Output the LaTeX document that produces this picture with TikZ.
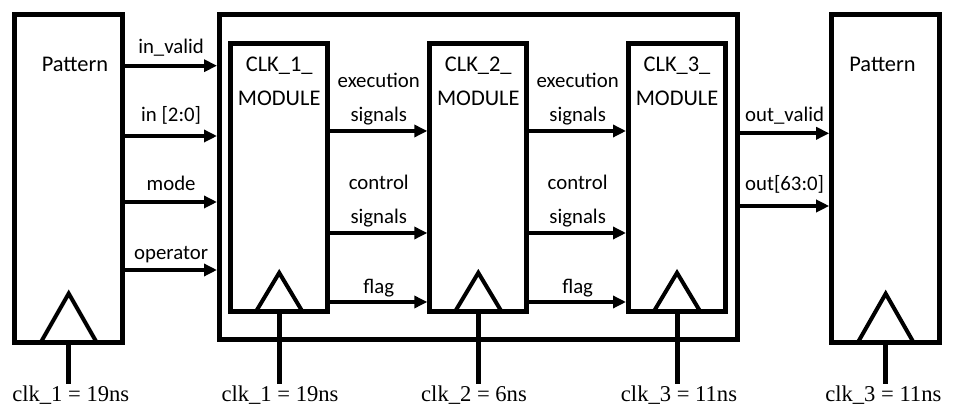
\documentclass[tikz,border=0pt]{standalone}
\usepackage{fontspec}
\setmainfont{Carlito}
\newfontfamily\clkfont{Liberation Serif}
\usetikzlibrary{arrows.meta,positioning}

\tikzset{
	blk/.style={draw,line width=2.5pt,inner sep=0pt},
	tri/.style={line width=2pt},
	clkln/.style={line width=2.5pt},
	sig/.style={line width=1.9pt,-{Triangle[length=6.5pt,width=6pt]}},
	lbl/.style={font=\fontsize{10.4}{12}\selectfont,inner sep=0pt,anchor=base},
	ttl/.style={font=\fontsize{11.2}{13}\selectfont,inner sep=0pt,anchor=base},
	clk/.style={font=\clkfont\fontsize{11.3}{13}\selectfont,inner sep=1pt,anchor=base}
}

\begin{document}
\begin{tikzpicture}[x=0.5pt,y=-0.5pt]
	\useasboundingbox (0,0) rectangle (961,415);
	
	% pattern blocks and the frame
	\node[blk,minimum width=54pt,minimum height=164pt] (P1) at (68.7,178.5) {};
	\node[blk,minimum width=54pt,minimum height=164pt] (P2) at (885.7,178.7) {};
	\node[blk,minimum width=259pt,minimum height=162.5pt] (TOP) at (478.5,177) {};
	\node[ttl] (PT1) at (75,71.7) {Pattern};
	\node[ttl] (PT2) at (882.5,71.7) {Pattern};
	
	% modules
	\foreach \x [count=\i] in {279.2,478.3,677} {
		\node[blk,minimum width=48.5pt,minimum height=134pt] (M\i) at (\x,178) {};
		\node[ttl] (C\i) at (\x,71.7) {CLK\_\i\_};
		\node[ttl] (D\i) at (\x,105.7) {MODULE};
	}
	
	% clock triangles
	\foreach \n/\w/\h in {P1/14/25.75,P2/14/25.75,M1/11.75/20.85,M2/11.75/20.85,M3/11.75/20.85}
		\draw[tri] ([xshift=-\w pt,yshift=1.25pt]\n.south) -- ([yshift=\h pt]\n.south) -- ([xshift=\w pt,yshift=1.25pt]\n.south);
	
	% clocks
	\node[clk] (K0) at (70.8,401.7) {clk\_1 = 19ns};
	\node[clk] (K1) at (280,401.7) {clk\_1 = 19ns};
	\node[clk] (K2) at (474,401.7) {clk\_2 = 6ns};
	\node[clk] (K3) at (679,401.7) {clk\_3 = 11ns};
	\node[clk] (K4) at (883.3,401.7) {clk\_3 = 11ns};
	\foreach \n/\k in {P1/K0,M1/K1,M2/K2,M3/K3,P2/K4}
		\draw[clkln] (\n.south) -- (\n.south |- \k.north);
	
	% signals
	\foreach \y/\d/\t in {65.7/11.7/in\_valid,136/14.3/{in [2:0]},202/11.3/mode,270/10/operator}
		\draw[sig] (P1.east |- 0,\y) -- node[lbl,yshift=\d*0.5pt]{\t} (TOP.west |- 0,\y);
	
	\foreach \a/\b in {M1/M2,M2/M3} {
		\draw[sig] (\a.east |- 0,131) -- node[lbl,yshift=21.85pt]{execution} node[lbl,yshift=4.65pt]{signals} (\b.west |- 0,131);
		\draw[sig] (\a.east |- 0,233) -- node[lbl,yshift=21.5pt]{control} node[lbl,yshift=4.5pt]{signals} (\b.west |- 0,233);
		\draw[sig] (\a.east |- 0,302) -- node[lbl,yshift=4.2pt]{flag} (\b.west |- 0,302);
	}
	
	\draw[sig] (TOP.east |- 0,133.3) -- node[lbl,yshift=5.8pt]{out\_valid} (P2.west |- 0,133.3);
	\draw[sig] (TOP.east |- 0,206) -- node[lbl,yshift=7.6pt]{out[63:0]} (P2.west |- 0,206);
\end{tikzpicture}
\end{document}
